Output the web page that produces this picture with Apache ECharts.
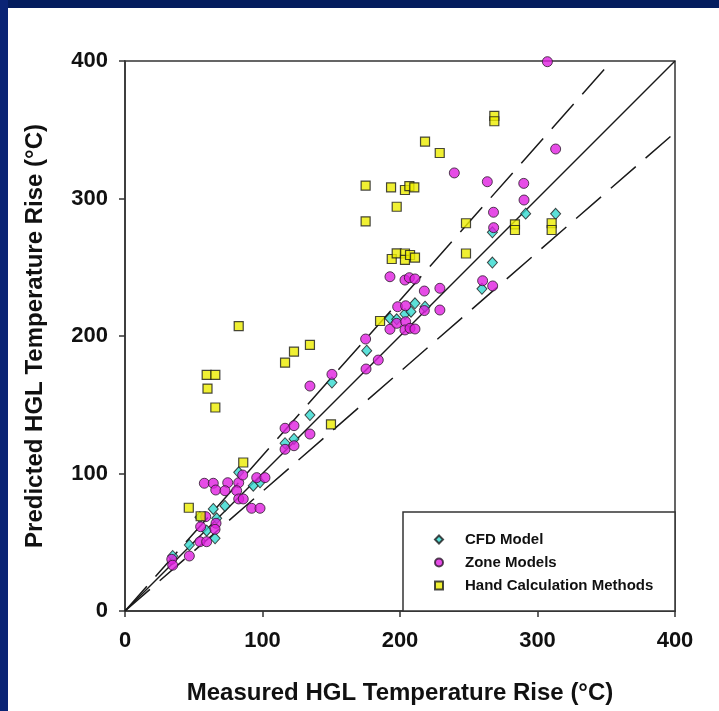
<!DOCTYPE html>
<html>
<head>
<meta charset="utf-8">
<script src="https://cdn.jsdelivr.net/npm/echarts@6/dist/echarts.min.js"></script>
<style>
html,body{margin:0;padding:0;background:#fff;}
#chart{width:719px;height:711px;}
</style>
</head>
<body>
<div id="chart"></div>
<script>
// ---- data ----
const axisTicks = [0, 100, 200, 300, 400];

const cfdX = [34.7,46.8,54.5,59.4,65.5,64.2,66.7,72.7,82.7,93.3,98.2,116.4,122.9,134.5,150.5,175.8,192.7,197.6,203.6,208,210.9,218.2,259.6,267.2,267.2,291.4,313.2];
const cfdY = [40,48,68.1,58.4,52.9,74.2,67.4,76.4,100.9,91.1,93.6,122,125.1,142.5,166.1,189.3,212.8,212.1,216,217.7,223.8,221.3,234.3,253.4,275.4,289,288.9];

const zoneX = [34,34.7,46.8,57.7,64.2,66,74.7,72.7,82.7,81.2,85.6,95.8,101.8,82.7,86,92.1,98.2,58.7,55,66.2,65.5,54.5,59.4,116.4,122.9,116.4,122.9,134.5,134.5,150.5,175,175.3,184.2,192.7,192.7,197.6,198.3,203.6,206.8,210.9,204.1,204.1,203.6,207.3,210.9,217.7,217.7,229,229,239.5,263.5,260.1,267.4,268,268.1,290,290.2,307.2,313.2];
const zoneY = [37.6,33.3,40,92.9,92.9,88,93.3,87.5,93.3,87.5,98.9,97,97,81.5,81.5,74.7,74.7,68.6,61.3,63.8,59.4,50.4,50.4,132.9,134.8,117.6,120.2,163.6,128.7,172.1,197.8,176,182.5,243.1,204.9,209.2,221.3,240.7,242.4,241.5,222,210.4,204.4,205.6,205.1,232.7,218.5,234.7,218.9,318.6,312.2,240.2,236.4,290,278.8,311,298.9,399.5,336];

const handX = [46.4,55,59.4,65.7,60,65.7,82.7,86,116.4,122.9,134.5,149.8,175,175,185.5,193.5,197.6,203.6,206.8,210.4,218.2,228.9,194,197.6,203.6,203.6,207.3,210.9,248,248,268.6,268.6,283.6,283.6,310.3,310.3];
const handY = [75.1,68.9,171.7,171.7,161.8,148,207.2,108,180.6,188.6,193.5,135.8,309.4,283.4,210.9,308.1,294,306.2,309,308.1,341.4,333.1,256,260.1,260,255.3,258.9,257,282,260,360.1,356.2,281.2,277.1,282,277.1];

// reference lines: perfect agreement and +13% / -13% bounds
const refSlopes = [1, 1.13, 0.87];
const refStyles = ['solid', 'dashed', 'dashed'];

const seriesNames = ['CFD Model', 'Zone Models', 'Hand Calculation Methods'];

// ---- build ----
const pairs = (xs, ys) => xs.map((x, i) => [x, ys[i]]);
const AX_MAX = 400;
const refLine = (k) => {
  const x1 = Math.min(AX_MAX, AX_MAX / k);
  return [[0, 0], [x1, x1 * k]];
};

const FONT = "'Liberation Sans', Arial, Helvetica, sans-serif";
const chart = echarts.init(document.getElementById('chart'), null, {renderer: 'canvas'});

const lineSeries = refSlopes.map((k, i) => ({
  type: 'line',
  data: refLine(k),
  symbol: 'none',
  silent: true,
  z: 1,
  lineStyle: {
    color: '#1a1a1a',
    width: 1.5,
    type: refStyles[i] === 'dashed' ? [33, 13] : 'solid'
  }
}));

const scatterCommon = {
  type: 'scatter',
  z: 3,
  emphasis: {disabled: true}
};

const option = {
  backgroundColor: '#ffffff',
  animation: false,
  textStyle: {fontFamily: FONT},
  grid: {
    left: 125, top: 61, width: 550, height: 550,
    show: true, borderColor: '#333', borderWidth: 1.5,
    backgroundColor: 'transparent'
  },
  xAxis: {
    type: 'value', min: axisTicks[0], max: axisTicks[axisTicks.length - 1], interval: 100,
    name: 'Measured HGL Temperature Rise (°C)',
    nameLocation: 'middle', nameGap: 70,
    nameTextStyle: {fontSize: 24, fontWeight: 'bold', color: '#111', fontFamily: FONT},
    axisLine: {show: true, lineStyle: {color: '#333', width: 1.5}},
    axisTick: {show: true, inside: false, length: 6, lineStyle: {color: '#333', width: 1.5}},
    axisLabel: {fontSize: 22, fontWeight: 'bold', color: '#111', margin: 19, fontFamily: FONT},
    splitLine: {show: false}
  },
  yAxis: {
    type: 'value', min: axisTicks[0], max: axisTicks[axisTicks.length - 1], interval: 100,
    name: 'Predicted HGL Temperature Rise (°C)',
    nameLocation: 'middle', nameGap: 78,
    nameTextStyle: {fontSize: 24, fontWeight: 'bold', color: '#111', fontFamily: FONT},
    axisLine: {show: true, lineStyle: {color: '#333', width: 1.5}},
    axisTick: {show: true, inside: false, length: 6, lineStyle: {color: '#333', width: 1.5}},
    axisLabel: {fontSize: 22, fontWeight: 'bold', color: '#111', margin: 17, fontFamily: FONT},
    splitLine: {show: false}
  },
  legend: {
    data: seriesNames,
    orient: 'vertical',
    left: 434, top: 532,
    padding: 0,
    itemWidth: 8, itemHeight: 8,
    itemGap: 8,
    z: 10,
    selectedMode: false,
    textStyle: {fontSize: 15, fontWeight: 'bold', color: '#111', lineHeight: 15, padding: [0, 0, 0, 17], fontFamily: FONT}
  },
  graphic: [
    {type: 'rect', z: 100, silent: true, shape: {x: 0, y: 0, width: 719, height: 8}, style: {fill: '#041d5e'}},
    {type: 'rect', z: 100, silent: true, shape: {x: 0, y: 0, width: 8, height: 711}, style: {fill: '#0a2475'}},
    {type: 'rect', z: 5, silent: true, shape: {x: 403, y: 512, width: 272, height: 99},
      style: {fill: '#ffffff', stroke: '#333', lineWidth: 1.5}}
  ],
  series: [
    ...lineSeries,
    Object.assign({}, scatterCommon, {
      name: seriesNames[0], data: pairs(cfdX, cfdY), symbol: 'diamond', symbolSize: [10, 11],
      itemStyle: {color: '#33d9d0', borderColor: '#1a1a1a', borderWidth: 1}
    }),
    Object.assign({}, scatterCommon, {
      name: seriesNames[1], data: pairs(zoneX, zoneY), symbol: 'circle', symbolSize: 10,
      itemStyle: {color: '#e01fe0', borderColor: '#2a1a2a', borderWidth: 1}
    }),
    Object.assign({}, scatterCommon, {
      name: seriesNames[2], data: pairs(handX, handY), symbol: 'rect', symbolSize: 9,
      itemStyle: {color: '#ecec00', borderColor: '#1a1a1a', borderWidth: 1.2}
    })
  ]
};
chart.setOption(option);
</script>
</body>
</html>
